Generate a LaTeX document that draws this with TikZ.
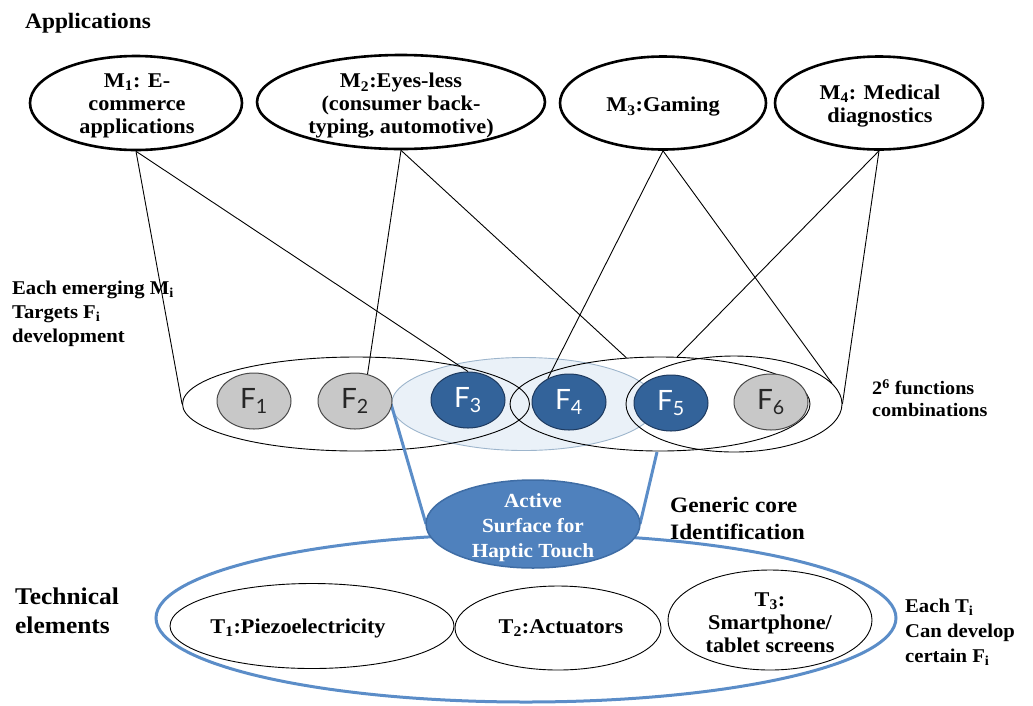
\documentclass[tikz,border=0pt]{standalone}
\usepackage{fontspec}
\setmainfont{Liberation Serif}[FakeStretch=1.06]
\newfontfamily\fsans{Lato}
\usetikzlibrary{shapes.geometric}
\definecolor{fgray}{HTML}{C8C8C8}
\definecolor{fgrayb}{HTML}{4A4A4A}
\definecolor{fblue}{HTML}{33639A}
\definecolor{fblueb}{HTML}{1E3A5F}
\definecolor{actblue}{HTML}{4F81BD}
\definecolor{actborder}{HTML}{3F6DA5}
\definecolor{lineblue}{HTML}{5B8DC8}
\definecolor{paleblue}{HTML}{EAF1F8}
\definecolor{paleborder}{HTML}{9DB5CC}
\tikzset{
  mell/.style={ellipse, draw=black, line width=2.6pt, fill=white, inner sep=0pt},
  mtxt/.style={align=center, font=\fontsize{21}{23}\selectfont\bfseries, inner sep=0pt},
  grp/.style={ellipse, draw=black, line width=0.9pt, inner sep=0pt},
  fcirc/.style={ellipse, line width=1pt, inner sep=0pt, minimum width=74pt, minimum height=56pt},
  fgrey/.style={fcirc, fill=fgray, draw=fgrayb, text=black!85},
  fdark/.style={fcirc, fill=fblue, draw=fblueb, text=white},
  flab/.style={font=\fontsize{28}{30}\selectfont\fsans, inner sep=0pt},
  tell/.style={ellipse, draw=black, line width=0.9pt, fill=white, inner sep=0pt},
  ttxt/.style={align=center, font=\fontsize{21}{23}\selectfont\bfseries, inner sep=0pt},
  lbl/.style={align=left, anchor=west, inner sep=0pt},
  conn/.style={draw=black, line width=0.9pt},
  bconn/.style={draw=lineblue, line width=3pt}
}
\begin{document}
\begin{tikzpicture}[x=1pt,y=-1pt]
\useasboundingbox (0,0) rectangle (1033,705);
% titles / side labels
\node[anchor=base west, inner sep=0pt, font=\fontsize{22}{24}\selectfont\bfseries] (app) at (25,28) {Applications};
\node[lbl, font=\fontsize{19.5}{24}\selectfont\bfseries] (emerg) at (12,314) {Each emerging M\textsubscript{i}\\Targets F\textsubscript{i}\\development};
\node[lbl, font=\fontsize{19}{22}\selectfont\bfseries] (comb) at (872,398) {2\textsuperscript{6} functions\\combinations};
\node[lbl, font=\fontsize{22}{27}\selectfont\bfseries] (gen) at (670,518) {Generic core\\Identification};
\node[lbl, font=\fontsize{24}{29}\selectfont\bfseries] (tech) at (15,611) {Technical\\elements};
\node[lbl, font=\fontsize{19.5}{25}\selectfont\bfseries] (eachT) at (905,632) {Each T\textsubscript{i}\\Can develop\\certain F\textsubscript{i}};
% application ellipses
\node[mell, minimum width=212pt, minimum height=94pt] (m1) at (136,103) {};
\node[mell, minimum width=288pt, minimum height=94pt] (m2) at (401,102) {};
\node[mell, minimum width=206pt, minimum height=93pt] (m3) at (663,103) {};
\node[mell, minimum width=208pt, minimum height=93pt] (m4) at (879,103) {};
\node[mtxt] (m1t) at (137,106) {M\textsubscript{1}: E-\\commerce\\applications};
\node[mtxt] (m2t) at (401,106) {M\textsubscript{2}:Eyes-less\\(consumer back-\\typing, automotive)};
\node[mtxt] (m3t) at (663,107) {M\textsubscript{3}:Gaming};
\node[mtxt] (m4t) at (880,106) {M\textsubscript{4}: Medical\\diagnostics};
% function groups
\node[ellipse, fill=paleblue, draw=paleborder, line width=0.9pt, inner sep=0pt, minimum width=265pt, minimum height=93pt] (blue) at (524,404) {};
\node[grp, minimum width=347pt, minimum height=94pt] (e1) at (356,404) {};
\node[grp, minimum width=300pt, minimum height=94pt] (e2) at (660,404) {};
\node[grp, minimum width=216pt, minimum height=96pt] (e3) at (734,404) {};
% outer technical ellipse
\node[ellipse, draw=lineblue, line width=3pt, inner sep=0pt, minimum width=740pt, minimum height=168pt] (outer) at (526,618) {};
% blue connectors to the core
\coordinate (rb) at (657,452);
\draw[bconn] (blue.west) -- (426,524) coordinate (lend);
\draw[bconn] (rb) -- (640,524) coordinate (rend);
% function nodes
\node[fgrey] (f1) at (254,401) {};
\node[fgrey] (f2) at (355,401) {};
\node[fdark] (f3) at (468,400) {};
\node[fdark] (f4) at (569,402) {};
\node[fdark] (f5) at (671,403) {};
\node[fgrey] (f6) at (771,402) {};
\node[flab, text=black!85] (f1t) at (f1) {F\textsubscript{1}};
\node[flab, text=black!85] (f2t) at (f2) {F\textsubscript{2}};
\node[flab, text=white] (f3t) at (f3) {F\textsubscript{3}};
\node[flab, text=white] (f4t) at (f4) {F\textsubscript{4}};
\node[flab, text=white] (f5t) at (f5) {F\textsubscript{5}};
\node[flab, text=black!85] (f6t) at (f6) {F\textsubscript{6}};
% connectors applications -> functions
\draw[conn] (m1.south) -- (e1.west);
\draw[conn] (m1.south) -- (f3.north);
\draw[conn] (m2.south) -- (f2.65);
\draw[conn] (m2.south) -- (e2.126);
\draw[conn] (m3.south) -- (f4.132);
\draw[conn] (m3.south) -- (e3.12);
\draw[conn] (m4.south) -- (e2.70);
\draw[conn] (m4.south) -- (e3.east);
% core
\node[ellipse, fill=actblue, draw=actborder, line width=1.5pt, inner sep=0pt, minimum width=214pt, minimum height=88pt] (act) at (533,524) {};
\node[align=center, text=white, inner sep=0pt, font=\fontsize{20}{25}\selectfont\bfseries] (actt) at (533,528) {Active\\Surface for\\Haptic Touch};
% technical elements
\node[tell, minimum width=284pt, minimum height=85pt] (t1) at (312,626) {};
\node[tell, minimum width=206pt, minimum height=84pt] (t2) at (558,628) {};
\node[tell, minimum width=204pt, minimum height=100pt] (t3) at (770,620) {};
\node[ttxt] (t1t) at (298,628) {T\textsubscript{1}:Piezoelectricity};
\node[ttxt] (t2t) at (561,628) {T\textsubscript{2}:Actuators};
\node[ttxt] (t3t) at (770,623) {T\textsubscript{3}:\\Smartphone/\\tablet screens};
\end{tikzpicture}
\end{document}
